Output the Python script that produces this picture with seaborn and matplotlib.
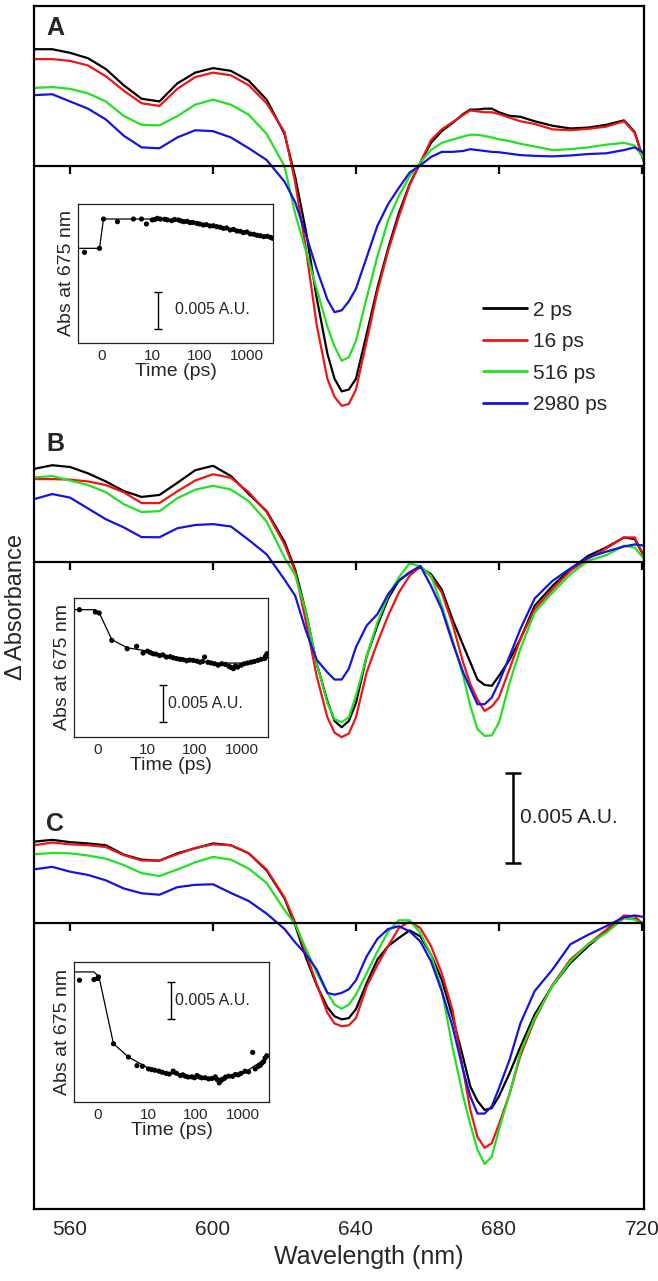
import numpy as np
import pandas as pd
import matplotlib
matplotlib.use("Agg")
import matplotlib.pyplot as plt
from matplotlib.lines import Line2D
import seaborn as sns

# wavelength grid shared by all spectra (nm)
wl = [550, 555, 560, 565, 570, 575, 580, 585, 590, 595, 600, 605, 610, 615, 620,
      623, 626, 629, 632, 634, 636, 638, 640, 643, 646, 649, 652, 655, 658, 661,
      664, 667, 670, 672, 674, 676, 678, 680, 683, 686, 690, 695, 700, 705, 710,
      715, 718, 721]

delays = ["2 ps", "16 ps", "516 ps", "2980 ps"]
colors = ["#000000", "#f01414", "#22e022", "#1414e0"]

# spectra, dA in mOD
a_2 = [6.5, 6.5, 6.3, 6.0, 5.4, 4.5, 3.75, 3.6, 4.6, 5.2, 5.45, 5.3, 4.75, 3.7, 1.8,
       -0.6, -3.6, -7.3, -10.4, -11.8, -12.5, -12.4, -11.8, -9.3, -6.75, -4.55, -2.6, -1.0, 0.2, 1.3,
       1.95, 2.4, 2.9, 3.15, 3.15, 3.2, 3.2, 3.0, 2.8, 2.75, 2.5, 2.25, 2.1, 2.15, 2.3,
       2.55, 1.9, 0.0]
a_16 = [5.95, 5.95, 5.85, 5.6, 5.0, 4.2, 3.5, 3.35, 4.3, 4.95, 5.2, 5.05, 4.5, 3.5, 1.9,
        -0.9, -4.6, -8.8, -11.8, -12.8, -13.3, -13.2, -12.4, -9.7, -6.95, -4.7, -2.8, -1.05, 0.2, 1.45,
        2.05, 2.45, 2.85, 3.1, 3.05, 3.0, 3.0, 2.9, 2.7, 2.5, 2.35, 2.05, 2.0, 2.08, 2.2,
        2.5, 1.85, 0.0]
a_516 = [4.35, 4.4, 4.3, 4.05, 3.6, 2.8, 2.3, 2.27, 2.78, 3.42, 3.7, 3.42, 2.86, 1.8, 0.0,
         -2.65, -4.7, -6.8, -8.9, -10.0, -10.8, -10.6, -9.7, -7.3, -5.0, -3.0, -1.65, -0.55, 0.2, 0.9,
         1.3, 1.48, 1.65, 1.75, 1.75, 1.68, 1.6, 1.5, 1.4, 1.25, 1.1, 0.9, 0.95, 1.05, 1.2,
         1.3, 1.15, 0.3]
a_2980 = [3.95, 4.0, 3.6, 3.2, 2.6, 1.7, 1.05, 1.0, 1.6, 2.0, 1.95, 1.6, 1.0, 0.35, -0.85,
          -2.0, -3.8, -5.7, -7.4, -8.1, -8.0, -7.5, -6.8, -5.05, -3.3, -2.1, -1.2, -0.35, 0.05, 0.52,
          0.8, 0.8, 0.85, 0.95, 0.9, 0.85, 0.8, 0.78, 0.7, 0.62, 0.58, 0.55, 0.6, 0.68, 0.72,
          0.9, 1.05, 0.7]

b_2 = [5.2, 5.4, 5.3, 4.95, 4.5, 3.97, 3.64, 3.75, 4.42, 5.12, 5.37, 4.8, 3.8, 2.85, 1.15,
       -0.4, -2.75, -5.6, -7.7, -8.8, -9.15, -8.8, -7.8, -5.2, -3.5, -2.0, -1.0, -0.55, -0.28, -0.65,
       -1.5, -3.15, -4.6, -5.55, -6.5, -6.8, -6.85, -6.3, -5.4, -4.25, -2.4, -1.3, -0.37, 0.37, 0.83,
       1.39, 1.3, 0.19]
b_16 = [4.63, 4.63, 4.6, 4.5, 4.3, 3.9, 3.3, 3.3, 3.95, 4.55, 4.9, 4.7, 3.9, 2.8, 1.0,
        -0.5, -3.3, -6.3, -8.6, -9.45, -9.7, -9.5, -8.6, -6.1, -4.45, -2.96, -1.67, -0.74, -0.22, -0.78,
        -1.67, -3.4, -5.56, -6.76, -7.6, -8.24, -8.0, -7.5, -5.9, -4.26, -2.6, -1.48, -0.46, 0.22, 0.78,
        1.39, 1.39, 0.19]
b_516 = [4.72, 4.8, 4.55, 4.3, 3.9, 3.24, 2.8, 2.85, 3.57, 4.04, 4.26, 4.05, 3.4, 2.27, 0.28,
         -0.7, -2.75, -5.6, -7.8, -8.7, -8.87, -8.6, -7.4, -5.2, -3.33, -1.85, -0.83, -0.04, -0.22, -0.74,
         -2.4, -4.26, -6.3, -7.96, -9.26, -9.63, -9.6, -8.9, -6.67, -4.8, -2.78, -1.67, -0.65, 0.1, 0.4,
         0.93, 0.83, 0.1]
b_2980 = [3.52, 3.8, 3.6, 3.0, 2.4, 1.95, 1.41, 1.4, 1.9, 2.08, 2.13, 2.0, 1.25, 0.45, -0.95,
          -1.85, -3.8, -5.4, -6.1, -6.5, -6.5, -5.9, -4.7, -3.5, -2.87, -1.76, -1.02, -0.56, -0.19, -1.3,
          -2.6, -4.44, -6.1, -7.0, -7.87, -7.87, -7.5, -6.67, -5.2, -3.7, -2.0, -1.02, -0.33, 0.28, 0.6,
          0.89, 1.0, 0.93]

c_2 = [4.5, 4.6, 4.47, 4.4, 4.3, 3.78, 3.5, 3.44, 3.85, 4.13, 4.4, 4.3, 3.85, 2.9, 1.35,
       -0.15, -1.93, -3.47, -4.7, -5.2, -5.37, -5.3, -4.8, -3.35, -2.05, -1.3, -0.85, -0.43, -0.76, -1.78,
       -3.17, -5.2, -7.5, -9.1, -9.9, -10.4, -10.3, -9.65, -8.35, -6.9, -5.1, -3.5, -2.24, -1.3, -0.48,
       0.26, 0.2, -0.1]
c_16 = [4.3, 4.45, 4.35, 4.3, 4.2, 3.75, 3.45, 3.45, 3.8, 4.15, 4.35, 4.3, 3.85, 2.95, 1.4,
        0.0, -1.7, -3.4, -5.0, -5.6, -5.75, -5.7, -5.3, -3.55, -2.35, -1.3, -0.3, 0.07, -0.3, -1.3,
        -2.8, -4.85, -8.2, -10.4, -11.9, -12.5, -12.25, -11.2, -9.5, -7.4, -5.4, -3.45, -2.05, -1.2, -0.4,
        0.4, 0.35, -0.2]
c_516 = [3.8, 3.87, 3.85, 3.73, 3.55, 3.2, 2.75, 2.59, 2.95, 3.35, 3.65, 3.5, 3.0, 2.2, 0.7,
         -0.1, -1.45, -2.78, -3.9, -4.55, -4.78, -4.55, -4.0, -2.8, -1.6, -0.5, 0.13, 0.13, -0.57, -1.78,
         -3.7, -6.9, -9.65, -11.2, -12.6, -13.4, -13.0, -11.5, -9.5, -7.2, -5.3, -3.5, -2.15, -1.2, -0.57,
         0.26, 0.17, -0.17]
c_2980 = [2.96, 3.1, 2.83, 2.65, 2.35, 1.9, 1.63, 1.55, 1.97, 2.1, 2.13, 1.65, 1.2, 0.5, -0.35,
          -1.1, -1.76, -2.6, -3.9, -4.0, -3.9, -3.7, -3.2, -1.87, -0.9, -0.35, -0.2, -0.48, -1.04, -2.15,
          -3.8, -5.75, -8.2, -9.65, -10.6, -10.6, -10.2, -9.2, -7.6, -5.6, -3.8, -2.6, -1.2, -0.67, -0.2,
          0.3, 0.4, 0.3]

panels = ["A", "B", "C"]
offsets = [0.042, 0.020, 0.0]
spectra = {
    "A": [a_2, a_16, a_516, a_2980],
    "B": [b_2, b_16, b_516, b_2980],
    "C": [c_2, c_16, c_516, c_2980],
}

# kinetics at 675 nm (time in ps, dA in mOD)
t_a = [-3.5, -0.5, 0.3, 3.1, 6.3, 7.9, 8.9, 10.2, 11.5, 13, 15, 18.6, 21, 26, 30, 36, 41, 47, 55, 63,
       72, 87, 100, 120, 140, 166, 195, 230, 270, 318, 370, 440, 520, 610, 720, 840, 990, 1170, 1380,
       1620, 1900, 2240, 2650, 3100, 3450]
k_a = [-0.54, 0.0, 3.96, 3.6, 3.96, 3.96, 3.29, 3.83, 3.9, 4.05, 3.95, 3.92, 3.85, 3.74, 3.9, 3.83,
       3.7, 3.6, 3.65, 3.47, 3.5, 3.38, 3.3, 3.15, 3.2, 3.02, 3.05, 2.93, 2.85, 2.7, 2.75, 2.48, 2.55,
       2.34, 2.3, 2.12, 2.2, 1.94, 1.9, 1.76, 1.7, 1.58, 1.62, 1.49, 1.35]
tfit_a = [-5, -0.5, 0.3, 10, 30, 100, 300, 1000, 3500]
kfit_a = [0.0, 0.0, 3.96, 3.96, 3.85, 3.45, 2.75, 2.05, 1.4]

t_b = [-3.7, -0.5, 0.27, 2.8, 5.9, 7.8, 9.1, 10, 11.5, 13, 15, 18, 21, 25, 30, 35, 41, 48, 56, 67,
       78, 92, 110, 129, 145, 160, 188, 220, 260, 310, 370, 440, 527, 580, 650, 720, 800, 950, 1110,
       1300, 1540, 1800, 2140, 2500, 2975, 3100, 3330]
k_b = [0.0, -0.32, -0.45, -4.14, -5.27, -4.95, -5.86, -5.6, -5.8, -5.95, -6.0, -6.2, -6.1, -6.4,
       -6.35, -6.5, -6.6, -6.7, -6.75, -6.9, -6.8, -6.85, -6.95, -7.1, -7.0, -6.4, -7.1, -7.2, -7.3,
       -7.5, -7.3, -7.4, -7.66, -7.8, -7.97, -7.6, -7.75, -7.5, -7.3, -7.2, -7.1, -7.0, -6.85, -6.7,
       -6.6, -6.3, -5.95]
tfit_b = [-5, -0.5, 0.3, 2.8, 5.9, 10, 30, 100, 300, 1000, 3500]
kfit_b = [0.0, 0.0, -0.45, -4.05, -5.14, -5.59, -6.31, -6.85, -7.21, -7.21, -6.49]

t_c = [-3.7, -0.8, -0.1, 0.1, 3.1, 6.1, 7.8, 8.9, 10.3, 12, 14, 17, 20, 24, 28, 34, 40, 48, 54, 61,
       70, 84, 95, 107, 120, 136, 160, 188, 220, 260, 280, 315, 340, 360, 400, 430, 500, 600, 690,
       800, 900, 1100, 1300, 1590, 1800, 2120, 2300, 2500, 2700, 2900, 3150]
k_c = [-1.13, -1.04, -0.9, -0.68, -9.77, -11.58, -12.75, -12.84, -13.2, -13.3, -13.38, -13.5, -13.65,
       -13.8, -13.9, -13.5, -13.8, -14.1, -14.0, -14.19, -14.3, -14.28, -14.4, -14.1, -14.3, -14.41,
       -14.4, -14.55, -14.5, -14.28, -14.6, -15.09, -14.8, -14.64, -14.5, -14.3, -14.19, -14.2, -13.96,
       -14.0, -13.8, -13.51, -13.6, -10.95, -13.2, -12.84, -12.7, -12.39, -12.2, -11.71, -11.4]
tfit_c = [-5, -0.8, 0.2, 3.1, 6.1, 10, 30, 100, 300, 1000, 3500]
kfit_c = [0.0, 0.0, -0.68, -9.77, -11.58, -13.06, -13.83, -14.28, -14.55, -13.83, -11.49]

sns.set_style("white")
plt.rcParams["font.family"] = ["Liberation Sans", "DejaVu Sans"]
plt.rcParams["axes.edgecolor"] = "black"

fig = plt.figure(figsize=(6.58, 12.81), dpi=100)
ax = fig.add_axes([34 / 658, 72 / 1281, 610 / 658, 1203 / 1281])

rows = []
for p, off in zip(panels, offsets):
    for d, vals in zip(delays, spectra[p]):
        for w, v in zip(wl, vals):
            rows.append({"panel": p, "delay": d, "wavelength": w, "dA": v / 1000 + off})
df = pd.DataFrame(rows)

palette = dict(zip(delays, colors))
for p in panels:
    sns.lineplot(data=df[df["panel"] == p], x="wavelength", y="dA", hue="delay",
                 hue_order=delays, palette=palette, estimator=None, sort=False,
                 linewidth=1.6, legend=False, ax=ax)

xt = [560, 600, 640, 680, 720]
for off in offsets:
    ax.axhline(off, color="black", lw=1.6, zorder=5)
    ax.vlines(xt, off - 0.00044, off, color="black", lw=1.6, zorder=5)

ax.set_xlim(549.9, 720.6)
ax.set_ylim(-0.0159, 0.0509)
ax.set_xticks(xt)
ax.set_yticks([])
ax.tick_params(axis="x", direction="out", length=5, width=1.4, labelsize=15, pad=3)
for s in ax.spines.values():
    s.set_linewidth(1.6)
ax.set_xlabel("Wavelength (nm)", fontsize=18)
ax.xaxis.set_label_coords(0.549, -0.03)
ax.set_ylabel("Δ Absorbance", fontsize=17)
ax.yaxis.set_label_coords(-0.012, 0.5)

for p, ytxt in zip(panels, [0.0497, 0.0266, 0.0055]):
    ax.text(553.3, ytxt, p, fontsize=18, fontweight="bold", ha="left", va="center")

handles = [Line2D([], [], color=c, lw=2) for c in colors]
ax.legend(handles, delays, loc="upper left", bbox_to_anchor=(0.736, 0.755),
          frameon=False, fontsize=15, handlelength=2.1, handletextpad=0.3,
          labelspacing=0.6, borderpad=0, borderaxespad=0)

# 0.005 scale bar
ax.errorbar(683.9, 0.00583, yerr=0.0025, fmt="none", ecolor="black",
            elinewidth=1.8, capsize=6, capthick=1.8)
ax.text(685.9, 0.00583, "0.005 A.U.", fontsize=15, ha="left", va="center")


def fwd(t):
    t = np.asarray(t, dtype=float)
    return np.where(t <= 10, t * 0.105, 1.05 + np.log10(np.clip(t, 10, None) / 10))


def inv(p):
    p = np.asarray(p, dtype=float)
    return np.where(p <= 1.05, p / 0.105, 10 * 10 ** (np.clip(p, 1.05, None) - 1.05))


insets = [
    ([78 / 658, 938 / 1281, 195 / 658, 139 / 1281], t_a, k_a, tfit_a, kfit_a, (-12.79, 5.99), (13.4, -8.36), (30, -8.3)),
    ([74 / 658, 544 / 1281, 194 / 658, 139 / 1281], t_b, k_b, tfit_b, kfit_b, (-17.2, 1.58), (20.7, -12.7), (27.3, -12.7)),
    ([74 / 658, 179 / 1281, 195 / 658, 140 / 1281], t_c, k_c, tfit_c, kfit_c, (-17.7, 1.35), (29.9, -3.85), (37.5, -3.9)),
]
for rect, t, k, tf, kf, yl, bar, lab in insets:
    ins = fig.add_axes(rect)
    sns.lineplot(x=tf, y=kf, color="black", lw=0.9, estimator=None, sort=False, ax=ins)
    sns.scatterplot(x=t, y=k, color="black", s=14, edgecolor="none", ax=ins)
    ins.errorbar(bar[0], bar[1], yerr=2.5, fmt="none", ecolor="black", elinewidth=1.0,
                 capsize=3, capthick=1.0)
    ins.text(lab[0], lab[1], "0.005 A.U.", fontsize=11.5, ha="left", va="center")
    ins.set_xscale("function", functions=(fwd, inv))
    ins.set_xlim(-4.8, 3500)
    ins.set_ylim(*yl)
    ins.set_xticks([0, 10, 100, 1000])
    ins.set_xticklabels(["0", "10", "100", "1000"])
    ins.minorticks_off()
    ins.set_yticks([])
    ins.tick_params(axis="x", direction="out", length=3, width=0.8, labelsize=11, pad=1)
    for s in ins.spines.values():
        s.set_linewidth(0.9)
        s.set_color("#222222")
    ins.set_xlabel("Time (ps)", fontsize=14, labelpad=0)
    ins.set_ylabel("Abs at 675 nm", fontsize=14, labelpad=2)

fig.savefig("out.png", dpi=100)
